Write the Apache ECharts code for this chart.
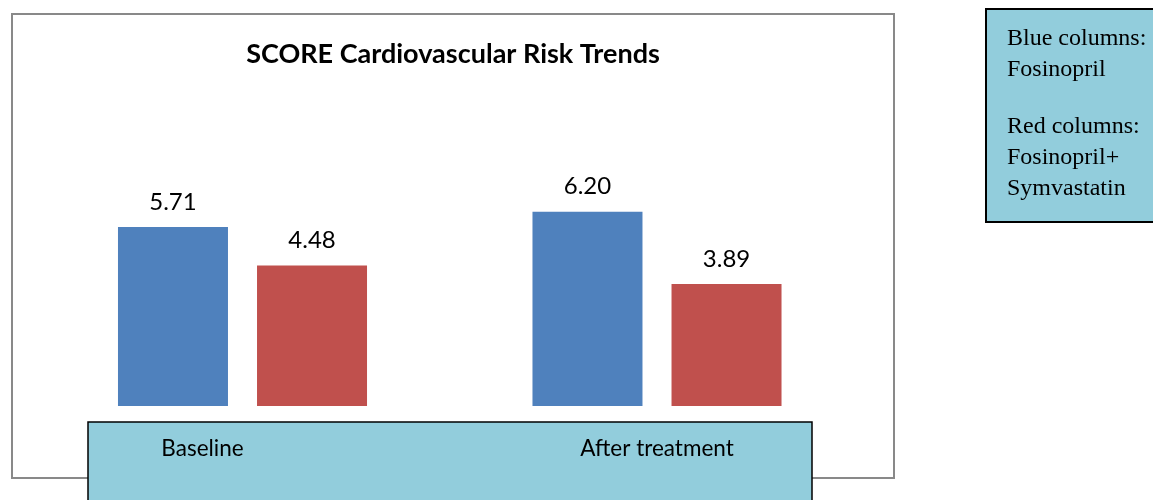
<!DOCTYPE html>
<html><head><meta charset="utf-8">
<script src="https://cdn.jsdelivr.net/npm/echarts@6/dist/echarts.min.js"></script>
<style>html,body{margin:0;padding:0;background:#fff}#c{width:1153px;height:500px}</style>
</head><body><div id="c"></div>
<script>
const titleText = 'SCORE Cardiovascular Risk Trends';
const categories = ['Baseline', 'After treatment'];
const fosinopril = [5.71, 6.20];
const fosinoprilSymvastatin = [4.48, 3.89];
const noteLines = ['Blue columns:', 'Fosinopril', '', 'Red columns:', 'Fosinopril+', 'Symvastatin'];

const chart = echarts.init(document.getElementById('c'));
chart.setOption({
  animation: false,
  backgroundColor: '#fff',
  title: {
    text: titleText, left: 448, top: 36, textAlign: 'center',
    textStyle: { fontFamily: 'Lato', fontWeight: 'bold', fontSize: 27, color: '#000' }
  },
  grid: { left: 35.25, right: 1153 - 864.25, top: 92.5, bottom: 94, containLabel: false },
  xAxis: {
    type: 'category', z: 10,
    data: categories.map((c, i) => i === 0 ? { value: c, textStyle: { padding: [0, 80, 0, 0] } } : c),
    axisLine: { show: false }, axisTick: { show: false },
    axisLabel: { margin: 31, fontFamily: 'Lato', fontSize: 22.5, color: '#000' }
  },
  yAxis: { type: 'value', min: 0, max: 10, show: false, splitLine: { show: false } },
  series: [
    { type: 'bar', name: 'Fosinopril', data: fosinopril, barWidth: 110, barGap: '26.4%',
      itemStyle: { color: '#4F81BD' },
      label: { show: true, position: 'top', distance: 13, formatter: p => p.value.toFixed(2),
               fontFamily: 'Lato', fontSize: 24, color: '#000' } },
    { type: 'bar', name: 'Fosinopril+Symvastatin', data: fosinoprilSymvastatin, barWidth: 110,
      itemStyle: { color: '#C0504D' },
      label: { show: true, position: 'top', distance: 13, formatter: p => p.value.toFixed(2),
               fontFamily: 'Lato', fontSize: 24, color: '#000' } }
  ],
  graphic: [
    { type: 'rect', z: -10, shape: { x: 12, y: 14, width: 882, height: 464 },
      style: { fill: '#fff', stroke: '#898989', lineWidth: 2 } },
    { type: 'rect', z: 1, shape: { x: 88, y: 422, width: 724, height: 90 },
      style: { fill: '#92CDDC', stroke: '#000', lineWidth: 1.5 } },
    { type: 'rect', z: 1, shape: { x: 986, y: 9, width: 180, height: 213 },
      style: { fill: '#92CDDC', stroke: '#000', lineWidth: 2 } },
    { type: 'text', z: 2, left: 1007, top: 27,
      style: { text: noteLines.map((l, i) => i === 2 ? '{g|}' : '{t|' + l + '}').join('\n'),
               rich: { t: { fontFamily: 'Liberation Serif', fontSize: 24, lineHeight: 31, fill: '#000', color: '#000' },
                       g: { fontSize: 10, lineHeight: 26 } },
               fill: '#000' } }
  ]
});
</script></body></html>
